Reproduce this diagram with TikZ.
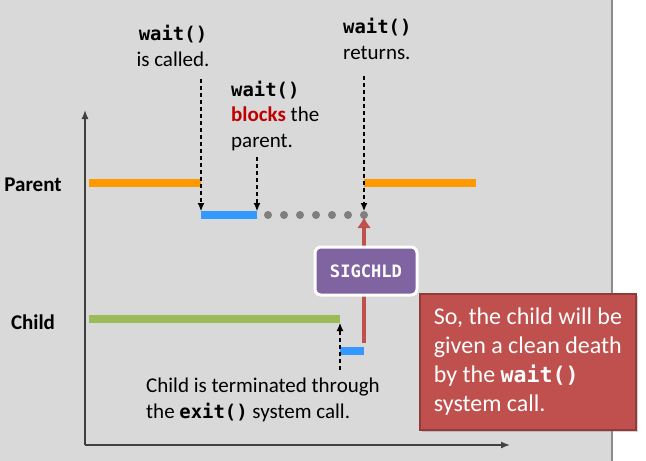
\documentclass[tikz,border=0pt]{standalone}
\usepackage{fontspec}
\setmainfont{Carlito}
\setmonofont[Scale=0.9]{DejaVu Sans Mono}
\usetikzlibrary{arrows.meta, positioning, shadows}
\definecolor{bggray}{HTML}{D9D9D9}
\definecolor{framegray}{HTML}{8C8C8C}
\definecolor{axisgray}{HTML}{404040}
\definecolor{parentorange}{HTML}{FF9900}
\definecolor{runblue}{HTML}{3399FF}
\definecolor{childgreen}{HTML}{9BBB59}
\definecolor{dotgray}{HTML}{7F7F7F}
\definecolor{sigred}{HTML}{C0504D}
\definecolor{sigredborder}{HTML}{8E3B39}
\definecolor{sigpurple}{HTML}{8064A2}
\definecolor{blockred}{HTML}{C00000}
\newcommand{\code}[1]{\texttt{\bfseries #1}}

\begin{document}
\begin{tikzpicture}[x=1pt, y=-1pt,
    every node/.style={font=\fontsize{21}{25.5}\selectfont, inner sep=0pt},
    bar/.style={line width=8pt},
    axis/.style={draw=axisgray, line width=1.4pt, -{Latex[length=9pt,width=7pt]}},
    waitarrow/.style={dash pattern=on 4pt off 3pt, line width=1.1pt, -{Latex[length=8pt,width=7pt]}},
    signal/.style={draw=sigred, line width=4pt, -{Latex[length=11pt,width=14pt]}},
    sigbox/.style={fill=sigpurple, draw=white, line width=3pt, rounded corners=6pt,
      minimum width=102pt, minimum height=48pt, text=white,
      font=\fontsize{19}{22}\selectfont\ttfamily\bfseries,
      drop shadow={opacity=0.3, shadow xshift=1pt, shadow yshift=-1pt}},
    notebox/.style={fill=sigred, draw=sigredborder, line width=2pt, text=white,
      minimum width=216pt, minimum height=136pt, align=left,
      font=\fontsize{24}{29}\selectfont,
      drop shadow={opacity=0.35, shadow xshift=2pt, shadow yshift=-2pt}}]
  \useasboundingbox (0,0) rectangle (646,461);
  \fill[bggray] (0,0) rectangle (612,461);
  \draw[framegray, line width=1.5pt] (612,0) -- (612,461);

  % axes
  \coordinate (origin) at (85,445);
  \draw[axis] (origin) -- (85,110);
  \draw[axis] (origin) -- (510,445);

  % process names
  \node (parent) at (33,185) {\bfseries Parent};
  \node (child) at (33,322) {\bfseries Child};

  % parent timeline
  \coordinate (p0) at (89,183);
  \coordinate (p1) at (201,183);
  \coordinate (b0) at (201,215);
  \coordinate (b1) at (257,215);
  \coordinate (p2) at (364,183);
  \coordinate (p3) at (476,183);
  \draw[bar, parentorange] (p0) -- (p1);
  \draw[bar, runblue] (b0) -- (b1);
  \draw[bar, parentorange] (p2) -- (p3);
  \foreach \i in {0,...,6}
    \fill[dotgray] (268+16*\i,215) circle (4pt) coordinate (dot\i);

  % child timeline
  \coordinate (c0) at (89,319);
  \coordinate (c1) at (340,319);
  \coordinate (e0) at (340,351);
  \coordinate (e1) at (364,351);
  \draw[bar, childgreen] (c0) -- (c1);
  \draw[bar, runblue] (e0) -- (e1);

  % labels
  \node[align=center] (called) at (173,46) {\code{wait()}\\is called.};
  \node[align=left, anchor=west] (blocks) at (231,116)
    {\code{wait()}\\\textcolor{blockred}{\bfseries blocks} the\\parent.};
  \node[align=left, anchor=west] (returns) at (343,39) {\code{wait()}\\returns.};
  \node[align=left, anchor=west] (exitnote) at (146,400)
    {Child is terminated through\\the \code{exit()} system call.};

  \draw[waitarrow, shorten <=12pt, shorten >=4pt] (b0 |- called.south) -- (b0);
  \draw[waitarrow, shorten <=6pt, shorten >=4pt] (b1 |- blocks.south) -- (b1);
  \draw[waitarrow, shorten <=16pt, shorten >=4pt] (dot6 |- returns.south) -- (dot6);
  \draw[waitarrow, shorten <=8pt, shorten >=4pt] (c1 |- exitnote.north) -- (c1);

  % signal to the parent
  \coordinate (sigstart) at (364,343);
  \draw[signal, shorten >=2pt] (sigstart) -- (dot6);
  \node[sigbox] (sigchld) at (366,271) {SIGCHLD};

  % note
  \node[notebox] (reap) at (528,362)
    {So, the child will be\\given a clean death\\by the \code{wait()}\\system call.};
\end{tikzpicture}
\end{document}
